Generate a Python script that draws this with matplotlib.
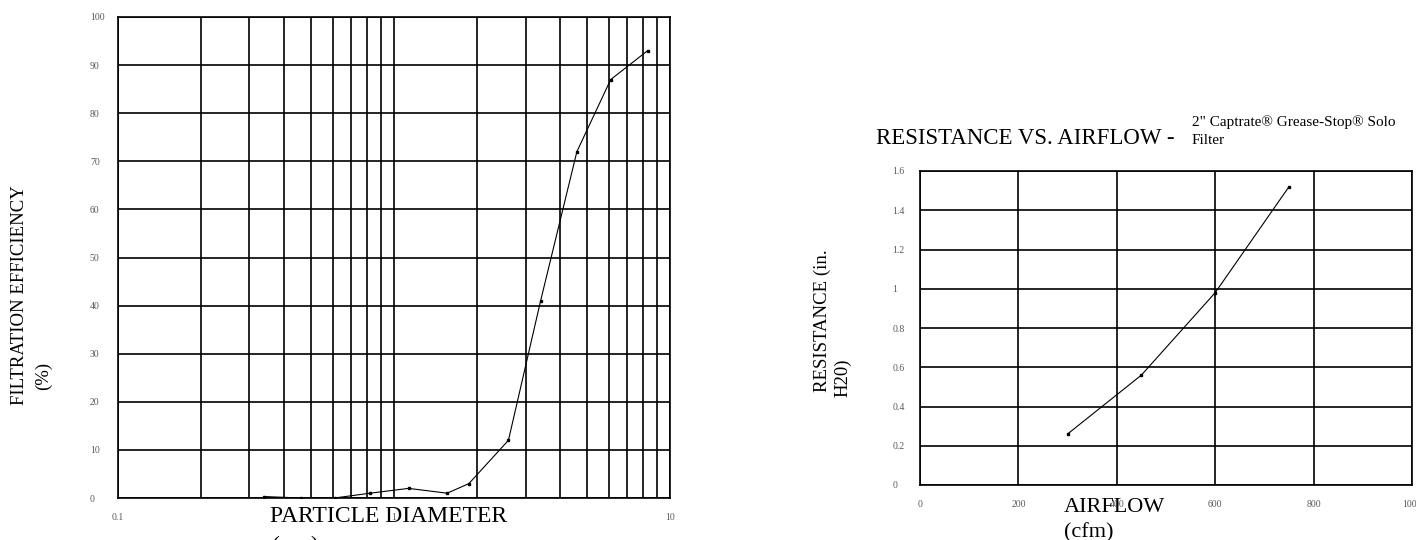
import matplotlib
matplotlib.use('Agg')
import matplotlib.pyplot as plt
from matplotlib.ticker import LogLocator, FixedLocator, NullFormatter

# data
diameter = [0.34, 0.46, 0.61, 0.82, 1.13, 1.56, 1.87, 2.6, 3.4, 4.6, 6.1, 8.3]  # um
efficiency = [0.3, 0, 0, 1, 2, 1, 3, 12, 41, 72, 87, 93]  # %
eff_ticks = [0, 10, 20, 30, 40, 50, 60, 70, 80, 90, 100]
diam_ticks = [0.1, 1, 10]
diam_labels = ['0.1', '1', '10']

airflow = [300, 450, 600, 750]  # cfm
resistance = [0.26, 0.56, 0.98, 1.52]  # in. H20
flow_ticks = [0, 200, 400, 600, 800, 1000]
res_ticks = [0, 0.2, 0.4, 0.6, 0.8, 1, 1.2, 1.4, 1.6]
res_labels = ['0', '0.2', '0.4', '0.6', '0.8', '1', '1.2', '1.4', '1.6']

plt.rcParams['font.family'] = ['Liberation Serif', 'DejaVu Serif']

W, H = 1416, 540
fig = plt.figure(figsize=(W / 100, H / 100), dpi=100)

def fx(px):
    return px / W

def fy(py):
    return 1 - py / H

GRID_LW = 1.2
TICK_COLOR = '#595959'

def style_axes(ax):
    for s in ax.spines.values():
        s.set_linewidth(GRID_LW)
        s.set_color('black')
    ax.tick_params(which='both', length=0, labelsize=7, labelcolor=TICK_COLOR)
    ax.tick_params(axis='y', pad=20)
    ax.tick_params(axis='x', pad=11)
    for lab in ax.get_yticklabels():
        lab.set_horizontalalignment('left')

# ---- left chart: filtration efficiency vs particle diameter ----
ax1 = fig.add_axes([fx(117.7), fy(498), fx(670 - 117.7), (498 - 17) / H])
ax1.set_xscale('log')
ax1.set_xlim(0.1, 10)
ax1.set_ylim(0, 100)
ax1.xaxis.set_major_locator(FixedLocator(diam_ticks))
ax1.set_xticklabels(diam_labels)
ax1.xaxis.set_minor_locator(LogLocator(base=10, subs=range(2, 10)))
ax1.xaxis.set_minor_formatter(NullFormatter())
ax1.set_yticks(eff_ticks)
ax1.set_yticklabels([str(v) for v in eff_ticks])
ax1.grid(which='both', axis='x', color='black', lw=GRID_LW)
ax1.grid(which='major', axis='y', color='black', lw=GRID_LW)
ax1.set_axisbelow(True)
ax1.plot(diameter, efficiency, color='black', lw=0.8, marker='s', ms=1.6)
style_axes(ax1)

# axis titles (Excel style, placed by hand)
fig.text(fx(20), fy(295), 'FILTRATION EFFICIENCY', rotation=90, ha='center', va='center', size=13.5)
fig.text(fx(43), fy(376), '(%)', rotation=90, ha='center', va='center', size=13.5)
fig.text(fx(389), fy(516), 'PARTICLE DIAMETER', ha='center', va='center', size=17, zorder=5)
fig.text(fx(272), fy(546), '(\u03bcm)', ha='left', va='center', size=17)

# ---- right chart: resistance vs airflow ----
ax2 = fig.add_axes([fx(920), fy(485), fx(1412 - 920), (485 - 171) / H])
ax2.set_xlim(0, 1000)
ax2.set_ylim(0, 1.6)
ax2.set_xticks(flow_ticks)
ax2.set_xticklabels([str(v) for v in flow_ticks])
ax2.set_yticks(res_ticks)
ax2.set_yticklabels(res_labels)
ax2.grid(True, color='black', lw=GRID_LW)
ax2.set_axisbelow(True)
ax2.plot(airflow, resistance, color='black', lw=0.8, marker='s', ms=1.6)
style_axes(ax2)

fig.text(fx(876), fy(139), 'RESISTANCE VS. AIRFLOW -', ha='left', va='center', size=16.5)
fig.text(fx(1192), fy(122), '2" Captrate\u00ae Grease-Stop\u00ae Solo', ha='left', va='center', size=11)
fig.text(fx(1192), fy(141), 'Filter', ha='left', va='center', size=11)
fig.text(fx(822), fy(321), 'RESISTANCE (in.', rotation=90, ha='center', va='center', size=13.5)
fig.text(fx(843), fy(378), 'H20)', rotation=90, ha='center', va='center', size=13.5)
fig.text(fx(1114), fy(507), 'AIRFLOW', ha='center', va='center', size=16, zorder=5)
fig.text(fx(1064), fy(533), '(cfm)', ha='left', va='center', size=16)

fig.savefig('out.png', dpi=100)
